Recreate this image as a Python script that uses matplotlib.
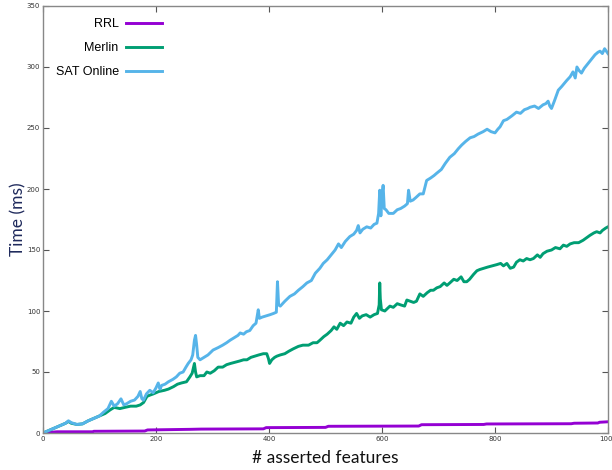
import matplotlib
matplotlib.use("Agg")
import matplotlib.pyplot as plt

# ---------------- data ----------------
sat_x = [0, 10, 20, 30, 40, 45, 50, 60, 70, 80, 90, 100, 107, 115, 121, 126, 132, 138, 143, 148,
         155, 162, 168, 172, 175, 178, 183, 189, 195, 200, 204, 207, 210, 216, 222, 230, 236, 242,
         248, 253, 257, 262, 265, 268, 270, 272, 274, 278, 285, 292, 301, 310, 318, 325, 331, 338,
         345, 349, 355, 360, 366, 372, 377, 381, 383, 388, 395, 402, 408, 413, 415, 417, 420, 428,
         437, 445, 452, 460, 467, 475, 482, 490, 496, 503, 510, 517, 523, 528, 535, 543, 550, 555,
         558, 561, 566, 573, 580, 586, 591, 594, 596, 598, 600, 602, 604, 607, 612, 620, 627, 633,
         640, 645, 647, 650, 655, 660, 667, 673, 679, 686, 692, 697, 705, 712, 720, 728, 735, 741,
         748, 756, 763, 770, 779, 786, 793, 800, 805, 809, 815, 821, 830, 838, 845, 852, 858, 862,
         870, 877, 885, 890, 894, 897, 900, 905, 912, 918, 927, 933, 938, 942, 945, 949, 953, 958,
         965, 970, 977, 982, 986, 990, 994, 1000]
sat_y = [0, 2, 4, 6, 8, 10, 8.5, 7, 7.5, 10, 12, 14, 17, 20, 26, 22, 24, 28, 23, 24,
         26, 27, 30, 34, 28, 27, 32, 35, 33, 37, 41, 36, 39, 40, 42, 44, 46, 49,
         50, 54, 57, 60, 64, 76, 80, 72, 62, 60, 62, 64, 68, 70, 72, 74, 76, 78,
         80, 82, 81, 83, 84, 88, 90, 101, 94, 95, 96, 97, 98, 99, 124, 105, 104, 108,
         112, 114, 117, 120, 123, 125, 131, 135, 139, 142, 146, 150, 155, 152, 157, 161, 163, 166,
         170, 164, 167, 169, 168, 171, 172, 180, 199, 178, 195, 203, 184, 183, 180, 180, 183, 184,
         186, 188, 199, 190, 191, 193, 196, 196, 207, 209, 211, 213, 216, 221, 226, 229, 233, 236,
         239, 242, 243, 245, 247, 249, 247, 246, 249, 251, 256, 257, 260, 263, 262, 265, 266, 267,
         268, 266, 269, 270, 272, 268, 266, 272, 281, 284, 289, 292, 296, 291, 300, 297, 295, 299,
         303, 306, 310, 312, 313, 311, 315, 311]

merlin_x = [0, 10, 20, 30, 40, 45, 50, 60, 70, 80, 90, 100, 110, 119, 126, 136, 145, 155, 165, 172,
            178, 184, 189, 195, 205, 215, 222, 231, 238, 245, 254, 260, 264, 266, 268, 270, 272,
            278, 285, 290, 296, 303, 310, 318, 325, 332, 340, 348, 355, 361, 368, 375, 382, 390,
            396, 399, 401, 405, 410, 414, 420, 428, 435, 443, 452, 460, 470, 478, 485, 490, 497,
            503, 510, 515, 520, 526, 532, 538, 545, 550, 555, 560, 565, 572, 579, 586, 592, 595,
            596, 597, 599, 605, 614, 620, 627, 633, 640, 644, 650, 656, 661, 667, 673, 680, 686,
            691, 697, 703, 710, 715, 720, 727, 733, 740, 745, 750, 755, 762, 768, 773, 780, 787,
            795, 803, 810, 815, 821, 827, 833, 838, 844, 850, 856, 862, 868, 875, 880, 885, 892,
            900, 907, 915, 921, 927, 933, 940, 948, 956, 962, 968, 975, 980, 986, 990, 996, 1000]
merlin_y = [0, 2, 4, 6, 8, 9.5, 8, 7, 7.5, 10, 12, 14, 16, 19, 21, 20, 21, 22, 22, 23,
            25, 30, 31, 32, 34, 35, 36, 38, 40, 41, 42, 46, 49, 53, 57, 50, 46,
            47, 47, 50, 49, 51, 54, 54, 56, 57, 58, 59, 60, 60, 62, 63, 64, 65,
            65, 61, 57, 60, 62, 63, 64, 65, 67, 69, 71, 72, 72, 74, 74, 76, 79,
            81, 84, 87, 85, 90, 88, 91, 90, 95, 98, 94, 96, 97, 95, 97, 98, 105,
            123, 110, 101, 100, 104, 103, 106, 105, 104, 109, 108, 107, 108, 114, 112, 115, 117,
            117, 119, 120, 123, 121, 123, 126, 125, 128, 124, 124, 126, 130, 133, 134, 135, 136,
            137, 138, 139, 137, 139, 135, 136, 140, 142, 141, 143, 142, 143, 146, 144, 147, 149,
            150, 152, 151, 154, 153, 155, 156, 156, 158, 160, 162, 164, 165, 164, 166, 168, 169]

rrl_x = [0, 10, 25, 88, 90, 180, 185, 260, 280, 390, 395, 500, 505, 665, 670, 780, 785,
         935, 940, 982, 985, 1000]
rrl_y = [0, 0.5, 1.0, 1.0, 1.4, 1.6, 2.5, 3.0, 3.2, 3.4, 4.4, 4.6, 5.5, 5.7, 6.8, 7.0, 7.4,
         7.6, 8.0, 8.2, 8.8, 9.2]

series_names = ["RRL", "Merlin", "SAT Online"]
series_colors = ["#9400D3", "#009E73", "#56B4E9"]

x_ticks = [0, 200, 400, 600, 800, 1000]
y_ticks = [0, 50, 100, 150, 200, 250, 300, 350]

# ---------------- figure ----------------
fig = plt.figure(figsize=(6.12, 4.70), dpi=100)
ax = fig.add_axes([43 / 612, 37 / 470, 565 / 612, 427 / 470])

lw = 2.1
ax.plot(rrl_x, rrl_y, color=series_colors[0], lw=lw, label=series_names[0])
ax.plot(merlin_x, merlin_y, color=series_colors[1], lw=lw, label=series_names[1])
ax.plot(sat_x, sat_y, color=series_colors[2], lw=lw, label=series_names[2])

ax.set_xlim(0, 1000)
ax.set_ylim(0, 350)
ax.set_xticks(x_ticks)
ax.set_yticks(y_ticks)
ax.set_xticklabels([str(t) for t in x_ticks])
ax.set_yticklabels([str(t) for t in y_ticks])

ax.tick_params(axis="both", which="both", direction="in", length=4, width=0.8,
               colors="#555555", labelsize=5, top=True, right=True, pad=2)
ax.tick_params(axis="x", labelcolor="#333333")
ax.tick_params(axis="y", labelcolor="#333333")
for s in ax.spines.values():
    s.set_color("#888888")
    s.set_linewidth(1.0)

ax.set_xlabel("# asserted features", fontsize=12.5, family=["Lato", "DejaVu Sans"],
              color="#111111", labelpad=6)
ax.set_ylabel("Time (ms)", fontsize=12.5, family=["Lato", "DejaVu Sans"],
              color="#1f2a5c")
ax.yaxis.set_label_coords(-17 / 565, 0.5)

leg = ax.legend(loc="upper left", bbox_to_anchor=(0.0, 1.0), frameon=False,
                markerfirst=False, handlelength=2.9, handletextpad=0.6,
                labelspacing=0.95, borderaxespad=0.6,
                prop={"family": ["Liberation Sans", "DejaVu Sans"], "size": 9})

fig.savefig("out.png", dpi=100)
